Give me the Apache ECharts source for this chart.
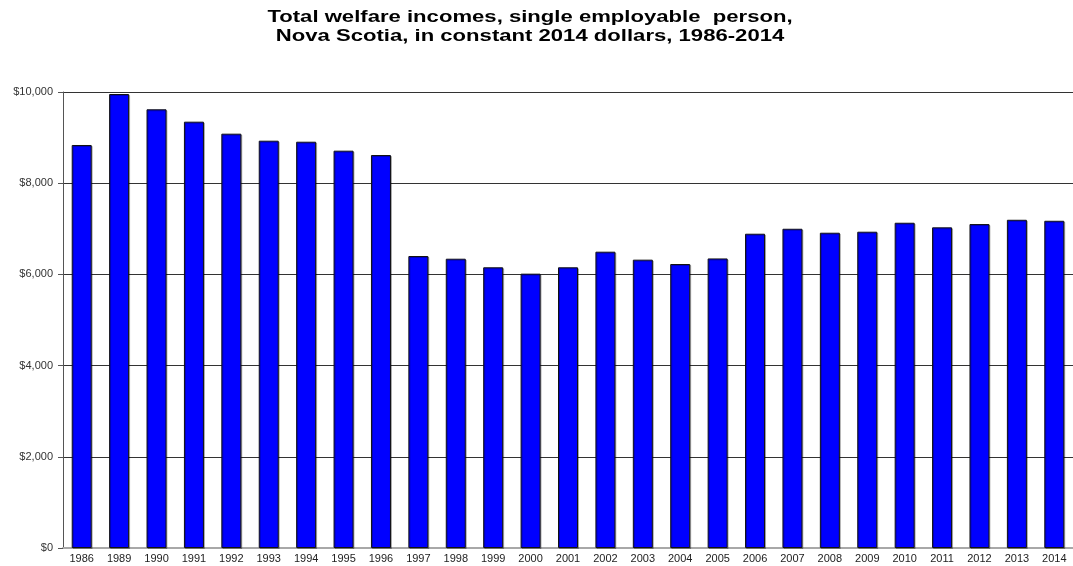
<!DOCTYPE html>
<html>
<head>
<meta charset="utf-8">
<script src="https://cdn.jsdelivr.net/npm/echarts@6/dist/echarts.min.js"></script>
<style>
  html, body { margin: 0; padding: 0; background: #fff; }
  #chart { width: 1073px; height: 566px; }
</style>
</head>
<body>
<div id="chart"></div>
<script>
// Years shown on the category axis (1987 and 1988 are not in the series)
const years = ['1986', '1989', '1990', '1991', '1992', '1993', '1994', '1995', '1996',
  '1997', '1998', '1999', '2000', '2001', '2002', '2003', '2004', '2005', '2006',
  '2007', '2008', '2009', '2010', '2011', '2012', '2013', '2014'];

// Total welfare income, constant 2014 dollars
const welfareIncome = [8838, 9956, 9621, 9349, 9086, 8932, 8910, 8713, 8618,
  6403, 6344, 6156, 6016, 6156, 6498, 6323, 6228, 6350, 6892,
  7001, 6914, 6936, 7133, 7032, 7104, 7198, 7176];

// Value axis ticks
const yTicks = [0, 2000, 4000, 6000, 8000, 10000];

const titleLines = [
  'Total welfare incomes, single employable  person,',
  'Nova Scotia, in constant 2014 dollars, 1986-2014'
];

const chart = echarts.init(document.getElementById('chart'), null, { renderer: 'canvas' });

chart.setOption({
  animation: false,
  backgroundColor: '#ffffff',
  // Title drawn as a graphic so it can be widened horizontally
  graphic: [{
    type: 'text',
    x: 530,
    y: 8,
    scaleX: 1.3,
    scaleY: 1,
    style: {
      text: titleLines.join('\n'),
      x: 0,
      y: 0,
      align: 'center',
      verticalAlign: 'top',
      font: 'bold 17px "Liberation Sans", Arial, sans-serif',
      lineHeight: 19,
      fill: '#000'
    }
  }],
  grid: {
    left: 63,
    right: 0,
    top: 92,
    bottom: 18,
    containLabel: false
  },
  xAxis: {
    type: 'category',
    data: years,
    boundaryGap: true,
    axisLine: { show: true, lineStyle: { color: '#a8a8a8', width: 2 } },
    axisTick: { show: false },
    axisLabel: {
      interval: 0,
      margin: 5,
      fontFamily: 'Liberation Sans, Arial, sans-serif',
      fontSize: 11,
      color: '#222'
    }
  },
  yAxis: {
    type: 'value',
    min: yTicks[0],
    max: yTicks[yTicks.length - 1],
    interval: yTicks[1] - yTicks[0],
    axisLine: { show: true, lineStyle: { color: '#555', width: 1 } },
    axisTick: { show: true, length: 5, lineStyle: { color: '#555' } },
    axisLabel: {
      margin: 10,
      fontFamily: 'Liberation Sans, Arial, sans-serif',
      fontSize: 11,
      color: '#333',
      formatter: v => '$' + v.toLocaleString('en-US')
    },
    splitLine: { show: true, lineStyle: { color: '#333', width: 1 } }
  },
  series: [{
    type: 'bar',
    data: welfareIncome,
    barWidth: 20,
    itemStyle: {
      color: '#0000ff',
      borderColor: '#111',
      borderWidth: 1,
      shadowColor: 'rgba(0,0,0,0.25)',
      shadowOffsetX: 1,
      shadowOffsetY: 1,
      shadowBlur: 0
    }
  }]
});
</script>
</body>
</html>
